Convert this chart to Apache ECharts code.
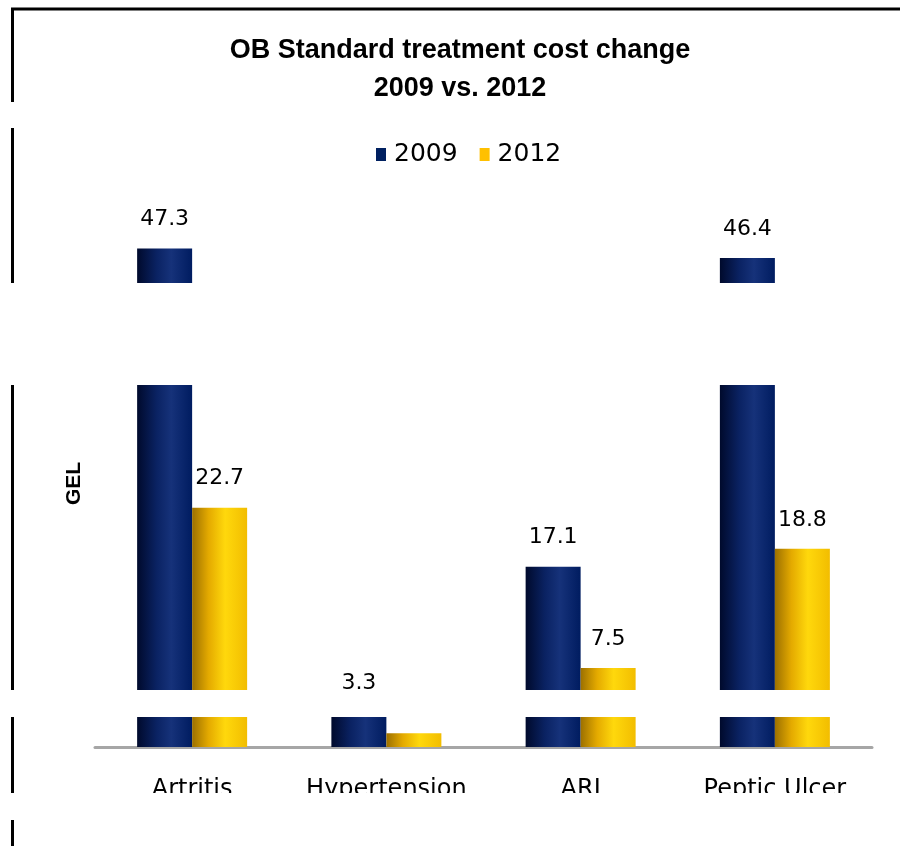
<!DOCTYPE html>
<html>
<head>
<meta charset="utf-8">
<script src="https://cdn.jsdelivr.net/npm/echarts@6/dist/echarts.min.js"></script>
<style>
  html, body { margin: 0; padding: 0; background: #fff; }
  #chart { width: 900px; height: 846px; }
</style>
</head>
<body>
<div id="chart"></div>
<script>
const categories = ['Artritis', 'Hypertension', 'ARI', 'Peptic Ulcer'];
const seriesNames = ['2009', '2012'];
const values2009 = [47.3, 3.3, 17.1, 46.4];
const values2012 = [22.7, 1.3, 7.5, 18.8];

const chart = echarts.init(document.getElementById('chart'));

const navyGrad = new echarts.graphic.LinearGradient(0, 0, 1, 0, [
  { offset: 0, color: '#000a2c' },
  { offset: 0.35, color: '#0a2262' },
  { offset: 0.62, color: '#16327a' },
  { offset: 1, color: '#001c60' }
]);
const yellowGrad = new echarts.graphic.LinearGradient(0, 0, 1, 0, [
  { offset: 0, color: '#9c7000' },
  { offset: 0.3, color: '#e4aa00' },
  { offset: 0.6, color: '#ffd80c' },
  { offset: 1, color: '#f2bd00' }
]);

const labelStyle = {
  show: true,
  position: 'top',
  distance: 18,
  color: '#000',
  fontFamily: 'DejaVu Sans',
  fontSize: 22
};

function band(y1, y2, x1, x2) {
  return {
    type: 'rect', z: 100,
    shape: { x: x1, y: y1, width: x2 - x1, height: y2 - y1 },
    style: { fill: '#ffffff' }
  };
}

chart.setOption({
  animation: false,
  backgroundColor: '#ffffff',
  title: {
    text: 'OB Standard treatment cost change\n2009 vs. 2012',
    left: 460,
    textAlign: 'center',
    top: 32,
    padding: 0,
    textStyle: {
      fontFamily: 'Liberation Sans',
      fontWeight: 'bold',
      fontSize: 27,
      lineHeight: 38,
      color: '#000'
    }
  },
  legend: {
    top: 142,
    left: 376,
    padding: 0,
    itemWidth: 10,
    itemHeight: 13,
    itemGap: 22,
    icon: 'rect',
    textStyle: { fontFamily: 'DejaVu Sans', fontSize: 25, color: '#000', padding: [0, 0, 0, 3] },
    data: [
      { name: '2009', itemStyle: { color: '#002060' } },
      { name: '2012', itemStyle: { color: '#ffc000' } }
    ]
  },
  grid: { left: 95, right: 28, top: 220, bottom: 99, containLabel: false, outerBoundsMode: 'none' },
  xAxis: {
    type: 'category',
    data: categories,
    axisLine: { show: true, lineStyle: { color: '#a6a6a6', width: 3 } },
    axisTick: { show: false },
    axisLabel: { margin: 31, fontFamily: 'DejaVu Sans', fontSize: 24, color: '#000', interval: 0 }
  },
  yAxis: {
    type: 'value',
    min: 0,
    max: 50,
    name: 'GEL',
    nameLocation: 'middle',
    nameGap: 10,
    nameTextStyle: { fontFamily: 'Liberation Sans', fontWeight: 'bold', fontSize: 21, color: '#000' },
    axisLine: { show: false },
    axisTick: { show: false },
    axisLabel: { show: false },
    splitLine: { show: false }
  },
  series: [
    {
      name: seriesNames[0], type: 'bar', data: values2009,
      barWidth: 55, barGap: '0%',
      itemStyle: { color: navyGrad },
      label: labelStyle
    },
    {
      name: seriesNames[1], type: 'bar', data: values2012,
      barWidth: 55, barGap: '0%',
      itemStyle: { color: yellowGrad },
      label: labelStyle
    }
  ],
  graphic: [
    { type: 'line', z: 90, shape: { x1: 11, y1: 9, x2: 900, y2: 9 }, style: { stroke: '#000', lineWidth: 3 } },
    { type: 'line', z: 90, shape: { x1: 12.5, y1: 8, x2: 12.5, y2: 846 }, style: { stroke: '#000', lineWidth: 3 } },
    band(102, 128, 0, 900),
    band(283, 385, 0, 900),
    band(690, 717, 0, 900),
    band(793, 820, 0, 900),
    band(820, 846, 16, 900)
  ]
});
</script>
</body>
</html>
